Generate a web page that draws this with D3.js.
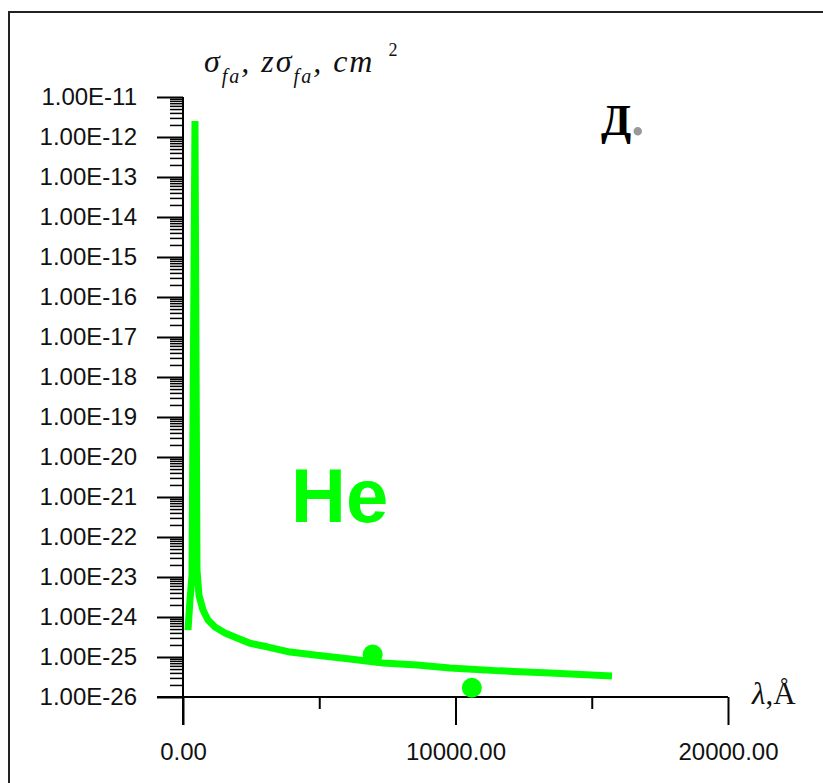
<!DOCTYPE html>
<html>
<head>
<meta charset="utf-8">
<script src="https://cdn.jsdelivr.net/npm/d3@7"></script>
<style>
  body { margin: 0; background: #fff; }
  svg { display: block; }
</style>
</head>
<body>
<div id="chart"></div>
<script>
// He photo-absorption cross section vs wavelength
var wavelength = [183, 257, 330, 440, 514, 587, 734, 917, 1174, 1541, 1982, 2459, 3083, 3927, 4917, 6128, 7339, 8587, 9798, 11633, 13468, 15743];
var sigma = [4.7e-25, 2.7e-24, 1.1e-23, 2.5e-12, 1.5e-23, 3.5e-24, 1.5e-24, 8.4e-25, 5.6e-25, 4.0e-25, 3.0e-25, 2.2e-25, 1.8e-25, 1.33e-25, 1.1e-25, 8.9e-26, 7.1e-26, 6.3e-26, 5.3e-26, 4.5e-26, 4.0e-26, 3.35e-26];

// two separate measured points
var pointX = [6960, 10600];
var pointY = [1.15e-25, 1.7e-26];

var xTicks = [0, 10000, 20000];
var xMinorTicks = [5000, 15000];
var yTicks = [1e-11, 1e-12, 1e-13, 1e-14, 1e-15, 1e-16, 1e-17, 1e-18, 1e-19, 1e-20, 1e-21, 1e-22, 1e-23, 1e-24, 1e-25, 1e-26];

var width = 823,
    height = 783;

var svg = d3.select("#chart")
  .append("svg")
    .attr("width", width)
    .attr("height", height);

// outer frame (only top and left edges are inside the picture)
svg.append("path")
  .attr("d", "M9," + height + "V12H" + width)
  .attr("fill", "none")
  .attr("stroke", "#222")
  .attr("stroke-width", 2);

var x = d3.scaleLinear()
  .domain([0, 20000])
  .range([183, 728]);

var y = d3.scaleLog()
  .domain([1e-26, 1e-11])
  .range([697, 97]);

// minor log ticks 2..9 inside each decade
var yMinorTicks = [];
yTicks.forEach(function(t){
  if (t < 1e-11) {
    for (var k = 2; k <= 9; k++) yMinorTicks.push(t * k);
  }
});

var labelFont = "'Liberation Sans', Arial, sans-serif";
var serif = "'Liberation Serif', 'Times New Roman', serif";

// Y axis: major ticks with labels
var yAxis = svg.append("g")
  .attr("transform", "translate(" + x(0) + ",0)")
  .call(d3.axisLeft(y)
    .tickValues(yTicks)
    .tickSize(26)
    .tickPadding(20)
    .tickFormat(function(d){ return "1.00E-" + Math.round(-Math.log10(d)); }));
yAxis.select(".domain").remove();
yAxis.selectAll("line").attr("stroke", "#000").attr("stroke-width", 2);
yAxis.selectAll("text")
  .style("font-family", labelFont)
  .style("font-size", "24px")
  .attr("fill", "#111");

// Y axis: minor ticks
var yMinor = svg.append("g")
  .attr("transform", "translate(" + x(0) + ",0)")
  .call(d3.axisLeft(y).tickValues(yMinorTicks).tickSize(13).tickFormat(""));
yMinor.select(".domain").remove();
yMinor.selectAll("line").attr("stroke", "#000").attr("stroke-width", 1.5);

// X axis: major ticks with labels
var xAxis = svg.append("g")
  .attr("transform", "translate(0," + y(1e-26) + ")")
  .call(d3.axisBottom(x)
    .tickValues(xTicks)
    .tickSize(28)
    .tickPadding(18)
    .tickFormat(d3.format(".2f")));
xAxis.select(".domain").remove();
xAxis.selectAll("line").attr("stroke", "#000").attr("stroke-width", 2);
xAxis.selectAll("text")
  .style("font-family", labelFont)
  .style("font-size", "24px")
  .attr("fill", "#111");

var xMinor = svg.append("g")
  .attr("transform", "translate(0," + y(1e-26) + ")")
  .call(d3.axisBottom(x).tickValues(xMinorTicks).tickSize(12).tickFormat(""));
xMinor.select(".domain").remove();
xMinor.selectAll("line").attr("stroke", "#000").attr("stroke-width", 2);

// axis lines
svg.append("line")
  .attr("x1", x(0)).attr("x2", x(0))
  .attr("y1", y(1e-11)).attr("y2", y(1e-26) + 28)
  .attr("stroke", "#000").attr("stroke-width", 2);
svg.append("line")
  .attr("x1", x(0) - 26).attr("x2", x(20000))
  .attr("y1", y(1e-26)).attr("y2", y(1e-26))
  .attr("stroke", "#000").attr("stroke-width", 2);

// curve
var green = "#00ff00";
svg.append("path")
  .datum(d3.zip(wavelength, sigma))
  .attr("d", d3.line()
    .x(function(d){ return x(d[0]); })
    .y(function(d){ return y(d[1]); }))
  .attr("fill", "none")
  .attr("stroke", green)
  .attr("stroke-width", 7)
  .attr("stroke-linejoin", "bevel");

svg.selectAll(".pt")
  .data(d3.zip(pointX, pointY))
  .enter()
  .append("circle")
    .attr("class", "pt")
    .attr("cx", function(d){ return x(d[0]); })
    .attr("cy", function(d){ return y(d[1]); })
    .attr("r", 10)
    .attr("fill", green);

// He label
svg.append("text")
  .attr("x", 291)
  .attr("y", 522)
  .style("font-family", labelFont)
  .style("font-weight", "bold")
  .style("font-size", "76px")
  .attr("fill", green)
  .text("He");

// panel letter
var panel = svg.append("text")
  .attr("x", 601)
  .attr("y", 135)
  .style("font-family", serif)
  .style("font-weight", "bold")
  .style("font-size", "44px")
  .attr("fill", "#000");
panel.append("tspan").text("Д");
panel.append("tspan").attr("fill", "#999").style("font-size", "52px").text(".");

// y axis title
var yt = svg.append("text")
  .attr("x", 204)
  .attr("y", 72)
  .style("font-family", serif)
  .style("font-style", "italic")
  .style("font-size", "32px")
  .style("letter-spacing", "2px")
  .attr("fill", "#111");
yt.append("tspan").text("σ");
yt.append("tspan").attr("dy", 11).style("font-size", "20px").text("fa");
yt.append("tspan").attr("dy", -11).text(", zσ");
yt.append("tspan").attr("dy", 11).style("font-size", "20px").text("fa");
yt.append("tspan").attr("dy", -11).text(", cm");
yt.append("tspan").attr("dx", 14).attr("dy", -16).style("font-style", "normal").style("font-size", "18px").text("2");

// x axis title
var xt = svg.append("text")
  .attr("x", 752)
  .attr("y", 704)
  .style("font-family", serif)
  .style("font-size", "31px")
  .attr("fill", "#111");
xt.append("tspan").style("font-style", "italic").text("λ");
xt.append("tspan").text(",Å");
</script>
</body>
</html>
